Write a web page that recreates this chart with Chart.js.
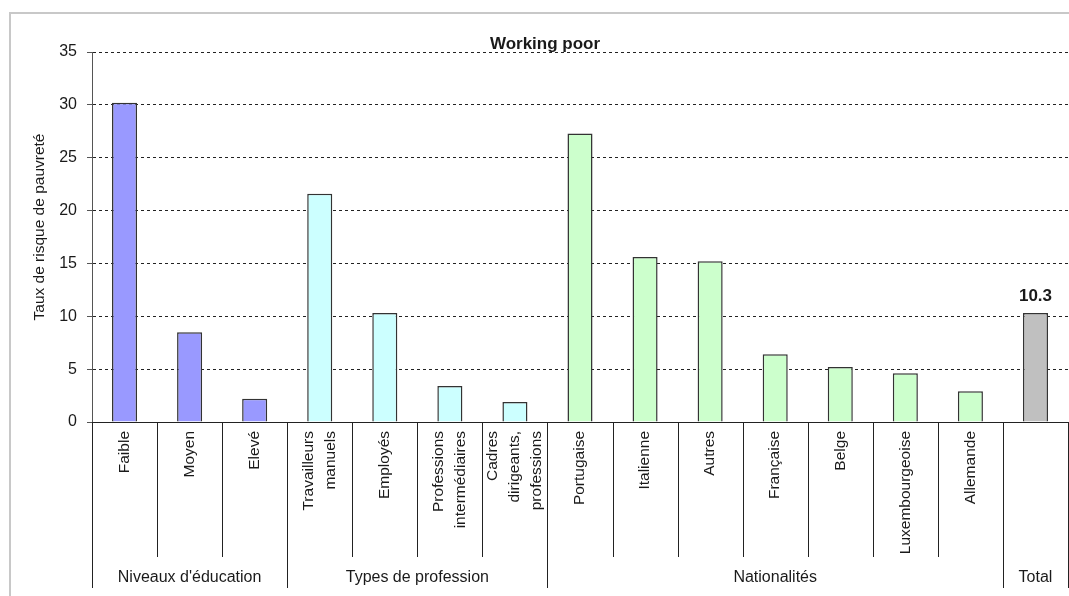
<!DOCTYPE html>
<html lang="fr">
<head>
    <meta charset="UTF-8">
    <title>Working poor</title>
    <style>
        body {
            margin: 0;
            background-color: #fff;
            overflow: hidden;
        }

        .frame {
            position: absolute;
            left: 9px;
            top: 12px;
            width: 1100px;
            height: 700px;
            border: 2px solid #c8c8c8;
        }

        .chart-box {
            position: absolute;
            left: 0;
            top: 0;
            width: 1069px;
            height: 596px;
        }
    </style>
    <script src="https://cdn.jsdelivr.net/npm/chart.js"></script>
</head>
<body>
    <div class="frame"></div>
    <div class="chart-box"><canvas id="myCanvas"></canvas></div>

    <script>
        // data
        const categories = [
            ['Faible'], ['Moyen'], ['Elevé'],
            ['Travailleurs', 'manuels'], ['Employés'], ['Professions', 'intermédiaires'], ['Cadres', 'dirigeants,', 'professions'],
            ['Portugaise'], ['Italienne'], ['Autres'], ['Française'], ['Belge'], ['Luxembourgeoise'], ['Allemande'],
            ['']
        ];
        const values = [30.2, 8.5, 2.2, 21.6, 10.3, 3.4, 1.9, 27.3, 15.6, 15.2, 6.4, 5.2, 4.6, 2.9, 10.3];
        const groupNames = ["Niveaux d'éducation", 'Types de profession', 'Nationalités', 'Total'];
        const groupSizes = [3, 4, 7, 1];
        const groupColors = ['#9999ff', '#ccffff', '#ccffcc', '#c0c0c0'];
        const chartTitle = 'Working poor';
        const yTitle = 'Taux de risque de pauvreté';
        const totalLabel = '10.3';

        const FONT = "'Liberation Sans', Arial, sans-serif";
        const TEXT = '#1a1a1a';

        // one colour per bar from its group
        const barColors = [];
        groupSizes.forEach((n, g) => {
            for (let k = 0; k < n; k++) barColors.push(groupColors[g]);
        });

        const groupEdges = [0];
        groupSizes.forEach(n => groupEdges.push(groupEdges[groupEdges.length - 1] + n));

        const tablePlugin = {
            id: 'categoryTable',
            afterDraw(chart) {
                const ctx = chart.ctx;
                const area = chart.chartArea;
                const xs = chart.scales.x;

                ctx.save();

                // title
                ctx.fillStyle = TEXT;
                ctx.font = 'bold 17px ' + FONT;
                ctx.textAlign = 'center';
                ctx.textBaseline = 'middle';
                ctx.fillText(chartTitle, 545, 44);

                // y axis title
                ctx.save();
                ctx.translate(40, 227);
                ctx.rotate(-Math.PI / 2);
                ctx.font = '15.5px ' + FONT;
                ctx.fillText(yTitle, 0, 0);
                ctx.restore();

                // dividers below the axis
                ctx.strokeStyle = '#222';
                ctx.lineWidth = 1;
                for (let i = 0; i <= categories.length; i++) {
                    const px = Math.round(xs.getPixelForValue(i - 0.5)) + 0.5;
                    const end = groupEdges.includes(i) ? 588 : 557;
                    ctx.beginPath();
                    ctx.moveTo(px, area.bottom);
                    ctx.lineTo(px, end);
                    ctx.stroke();
                }

                // rotated category labels
                ctx.font = '15.5px ' + FONT;
                ctx.textAlign = 'right';
                ctx.textBaseline = 'middle';
                categories.forEach((lines, i) => {
                    const cx = xs.getPixelForValue(i);
                    lines.forEach((line, j) => {
                        const off = (j - (lines.length - 1) / 2) * 22;
                        ctx.save();
                        ctx.translate(cx + off, 431);
                        ctx.rotate(-Math.PI / 2);
                        ctx.fillText(line, 0, 0);
                        ctx.restore();
                    });
                });

                // group labels
                ctx.font = '16px ' + FONT;
                ctx.textAlign = 'center';
                groupNames.forEach((name, g) => {
                    const a = xs.getPixelForValue(groupEdges[g] - 0.5);
                    const b = xs.getPixelForValue(groupEdges[g + 1] - 0.5);
                    ctx.fillText(name, (a + b) / 2, 578);
                });

                // value above the total bar
                const last = chart.getDatasetMeta(0).data[values.length - 1];
                ctx.font = 'bold 17px ' + FONT;
                ctx.textBaseline = 'alphabetic';
                ctx.fillText(totalLabel, last.x, last.y - 12);

                ctx.restore();
            }
        };

        const ctx = document.getElementById('myCanvas').getContext('2d');

        const chart = new Chart(ctx, {
            type: 'bar',
            data: {
                labels: categories,
                datasets: [{
                    data: values,
                    backgroundColor: barColors,
                    borderColor: '#333',
                    borderWidth: 1.5,
                    categoryPercentage: 1,
                    barPercentage: 0.385
                }]
            },
            options: {
                responsive: true,
                maintainAspectRatio: false,
                animation: false,
                layout: {
                    padding: { top: 52, right: 1, bottom: 0, left: 0 }
                },
                scales: {
                    x: {
                        grid: { display: false },
                        border: { display: true, color: '#222', width: 1 },
                        ticks: { display: false },
                        afterFit(scale) { scale.height = 174; }
                    },
                    y: {
                        min: 0,
                        max: 35,
                        ticks: {
                            stepSize: 5,
                            padding: 10,
                            color: TEXT,
                            font: { size: 16, family: FONT }
                        },
                        grid: {
                            color: '#222',
                            lineWidth: 1,
                            tickLength: 5,
                            tickColor: '#555',
                            tickBorderDash: []
                        },
                        border: { display: true, color: '#555', width: 1, dash: [3, 3] },
                        afterFit(scale) { scale.width = 92; }
                    }
                },
                plugins: {
                    legend: { display: false },
                    title: { display: false },
                    tooltip: { enabled: false }
                }
            },
            plugins: [tablePlugin]
        });
    </script>
</body>
</html>
